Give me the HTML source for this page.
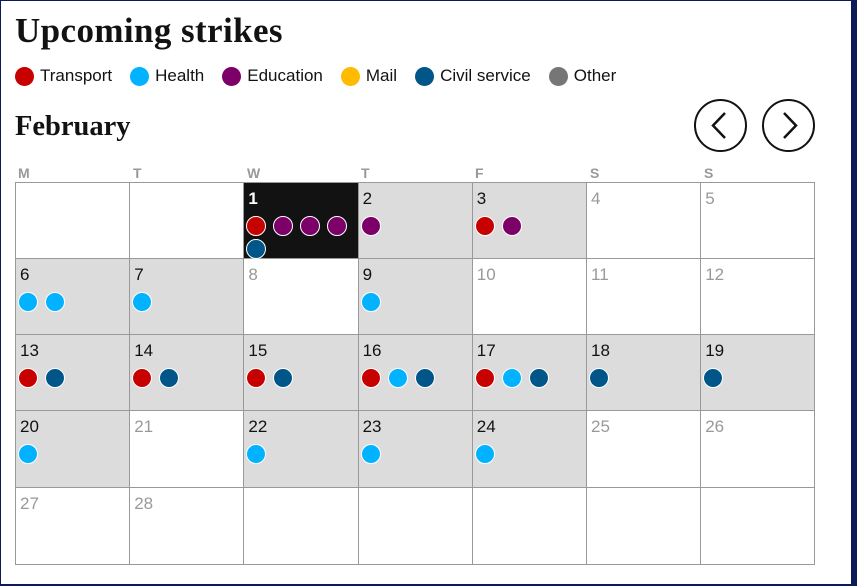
<!DOCTYPE html><html><head><style>
*{margin:0;padding:0;box-sizing:border-box}
body{width:857px;height:586px;background:#fff;position:relative;overflow:hidden;font-family:"Liberation Sans",sans-serif}
.frame{position:absolute;left:0;top:0;width:857px;height:586px;border:1px solid #0b1a5a;border-right:6px solid #0b1a5a;border-bottom:2px solid #0b1a5a}
h1{position:absolute;left:15px;top:11px;font-family:"Liberation Serif",serif;font-weight:bold;font-size:35px;letter-spacing:0.4px;color:#121212}
h2{position:absolute;left:15px;top:111px;font-family:"Liberation Serif",serif;font-weight:bold;font-size:28.5px;color:#121212}
.leg{position:absolute;top:66px;left:15px;display:flex;font-size:17px;color:#121212;line-height:20px}
.leg span{display:flex;align-items:center;margin-right:18px}
.leg i{display:inline-block;width:19px;height:19px;border-radius:50%;margin-right:6px}
.btn{position:absolute;top:99px;width:53px;height:53px;border:2px solid #121212;border-radius:50%}
.dn{position:absolute;top:165px;font-size:14px;font-weight:bold;color:#999}
.c{position:absolute;border-right:1px solid #999;border-bottom:1px solid #999;width:115px;height:77px}
.c b{position:absolute;left:4px;top:6px;font-weight:normal;font-size:17px;color:#121212}
.c.w b{color:#999}
.c.g{background:#dcdcdc}
.c.k{background:#121212}.c.k b{color:#fff;font-weight:bold}
.d{position:absolute;width:20px;height:20px;border-radius:50%;border:1px solid #fff}
.t{background:#c70000}.h{background:#00b2ff}.e{background:#7d0068}.v{background:#005689}
</style></head><body>
<div class="frame"></div>
<h1>Upcoming strikes</h1>
<div class="leg"><span><i class="t"></i>Transport</span><span><i class="h"></i>Health</span><span><i class="e"></i>Education</span><span><i style="background:#ffbb00"></i>Mail</span><span><i class="v"></i>Civil service</span><span><i style="background:#767676"></i>Other</span></div>
<h2>February</h2>
<div class="btn" style="left:694px"><svg width="49" height="49" viewBox="0 0 49 49"><polyline points="29,12 17,24.5 29,37" fill="none" stroke="#121212" stroke-width="2.5"/></svg></div>
<div class="btn" style="left:762px"><svg width="49" height="49" viewBox="0 0 49 49"><polyline points="20,12 32,24.5 20,37" fill="none" stroke="#121212" stroke-width="2.5"/></svg></div>
<div class="dn" style="left:18px">M</div><div class="dn" style="left:133px">T</div><div class="dn" style="left:247px">W</div><div class="dn" style="left:361px">T</div><div class="dn" style="left:475px">F</div><div class="dn" style="left:590px">S</div><div class="dn" style="left:704px">S</div>
<div style="position:absolute;left:15px;top:182px;width:800px;height:383px;border-left:1px solid #999;border-top:1px solid #999"></div>
<div id="g"></div>
<script>
var days=[
[null,null,[1,'k','t e e e v'],[2,'g','e'],[3,'g','t e'],[4,'w',''],[5,'w','']],
[[6,'g','h h'],[7,'g','h'],[8,'w',''],[9,'g','h'],[10,'w',''],[11,'w',''],[12,'w','']],
[[13,'g','t v'],[14,'g','t v'],[15,'g','t v'],[16,'g','t h v'],[17,'g','t h v'],[18,'g','v'],[19,'g','v']],
[[20,'g','h'],[21,'w',''],[22,'g','h'],[23,'g','h'],[24,'g','h'],[25,'w',''],[26,'w','']],
[[27,'w',''],[28,'w',''],null,null,null,null,null]];
var tops=[183,259,335,411,488],h='';
for(var r=0;r<5;r++)for(var c=0;c<7;c++){var x=16+c*114.2,y=tops[r],d=days[r][c];
var ht=(r<4?tops[r+1]:565)-y;
if(!d){h+='<div class="c" style="left:'+x+'px;top:'+y+'px;width:114.2px;height:'+ht+'px"></div>';continue;}
h+='<div class="c '+d[1]+'" style="left:'+x+'px;top:'+y+'px;width:114.2px;height:'+ht+'px"><b>'+d[0]+'</b>';
var ds=d[2]?d[2].split(' '):[];
for(var i=0;i<ds.length;i++){var row=Math.floor(i/4),col=i%4;h+='<i class="d '+ds[i]+'" style="left:'+(2+col*27)+'px;top:'+(33+row*23)+'px"></i>';}
h+='</div>';}
document.getElementById('g').innerHTML=h;
</script>
</body></html>
